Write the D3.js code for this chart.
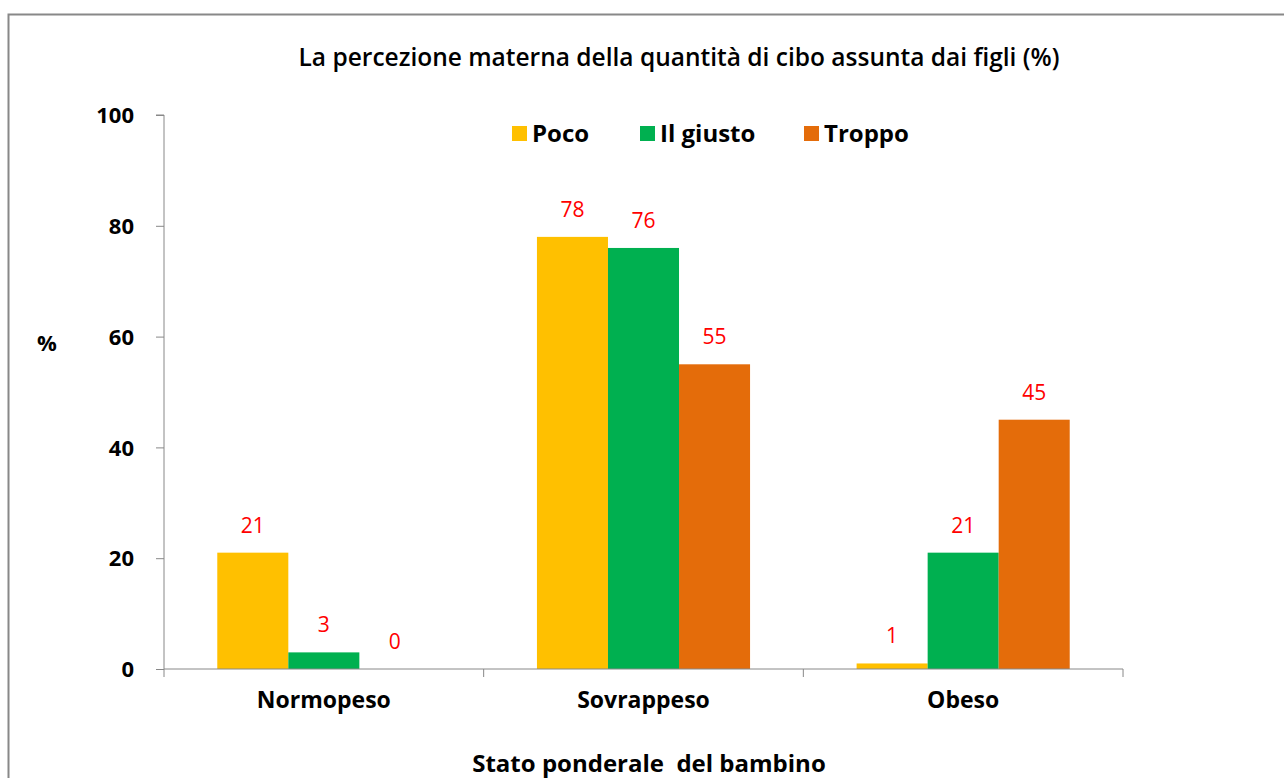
<!DOCTYPE html>
<html>
<head>
<meta charset="utf-8">
<script src="https://cdn.jsdelivr.net/npm/d3@7"></script>
<style>
  body { margin: 0; background: #fff; }
  svg, svg text { font-family: "Open Sans", sans-serif; }
</style>
</head>
<body>
<div id="chart"></div>
<script>
// data
var categories = ["Normopeso", "Sovrappeso", "Obeso"];
var seriesNames = ["Poco", "Il giusto", "Troppo"];
var poco = [21, 78, 1];
var giusto = [3, 76, 21];
var troppo = [0, 55, 45];
var yTicks = [0, 20, 40, 60, 80, 100];

var colors = ["#FFC000", "#00B050", "#E46C0A"];

var width = 1284, height = 778;

var svg = d3.select("#chart")
    .append("svg")
    .attr("width", width)
    .attr("height", height);

// outer frame
svg.append("rect")
    .attr("x", 8.5)
    .attr("y", 14.5)
    .attr("width", 1300)
    .attr("height", 800)
    .attr("fill", "white")
    .attr("stroke", "#888")
    .attr("stroke-width", 2);

var margin = { left: 164, right: 1123, top: 115, bottom: 669 };

var x0 = d3.scaleBand()
    .domain(categories)
    .range([margin.left, margin.right])
    .paddingInner(0)
    .paddingOuter(0);

var x1 = d3.scaleBand()
    .domain(seriesNames)
    .range([0, x0.bandwidth()])
    .paddingOuter(0.75)
    .paddingInner(0);

var y = d3.scaleLinear()
    .domain([0, 100])
    .range([margin.bottom, margin.top]);

var rows = categories.map(function (c, i) {
    return { cat: c, values: [poco[i], giusto[i], troppo[i]] };
});

// bars
var groups = svg.selectAll(".group")
    .data(rows)
    .enter().append("g")
    .attr("class", "group")
    .attr("transform", function (d) { return "translate(" + x0(d.cat) + ",0)"; });

groups.selectAll("rect")
    .data(function (d) { return d.values.map(function (v, j) { return { s: seriesNames[j], v: v, j: j }; }); })
    .enter().append("rect")
    .attr("x", function (d) { return x1(d.s); })
    .attr("y", function (d) { return y(d.v); })
    .attr("width", x1.bandwidth())
    .attr("height", function (d) { return y(0) - y(d.v); })
    .attr("fill", function (d) { return colors[d.j]; });

groups.selectAll(".val")
    .data(function (d) { return d.values.map(function (v, j) { return { s: seriesNames[j], v: v, j: j }; }); })
    .enter().append("text")
    .attr("class", "val")
    .attr("x", function (d) { return x1(d.s) + x1.bandwidth() / 2; })
    .attr("y", function (d) { return y(d.v) - 20; })
    .attr("text-anchor", "middle")
    .attr("fill", "#FF0000")
    .style("font-size", "21px")
    .text(function (d) { return d.v; });

// y axis
var yAxis = svg.append("g")
    .attr("transform", "translate(" + margin.left + ",0)")
    .call(d3.axisLeft(y).tickValues(yTicks).tickSize(8).tickPadding(22));
yAxis.attr("font-family", "Open Sans");
yAxis.select(".domain").attr("stroke", "#888").attr("d", "M-8," + y(100) + "H0V" + y(0));
yAxis.selectAll(".tick line").attr("stroke", "#888");
yAxis.selectAll(".tick text")
    .attr("fill", "#000")
    .style("font-size", "22px")
    .style("font-weight", "bold")
    .attr("dy", "0.35em");

// x axis
var xAxis = svg.append("g")
    .attr("transform", "translate(0," + margin.bottom + ")")
    .call(d3.axisBottom(x0).tickSize(0).tickPadding(23));
xAxis.attr("font-family", "Open Sans");
xAxis.select(".domain").attr("stroke", "#888").attr("d", "M" + margin.left + ",0H" + margin.right);
xAxis.selectAll(".tick text")
    .attr("fill", "#000")
    .style("font-size", "23px")
    .style("font-weight", "bold");

// category separators
var bounds = categories.map(function (c) { return x0(c); }).concat([margin.right]);
svg.selectAll(".sep")
    .data(bounds)
    .enter().append("line")
    .attr("x1", function (d) { return d; })
    .attr("x2", function (d) { return d; })
    .attr("y1", margin.bottom)
    .attr("y2", margin.bottom + 8)
    .attr("stroke", "#888");

// title
svg.append("text")
    .attr("x", 679)
    .attr("y", 66)
    .attr("text-anchor", "middle")
    .style("font-size", "24.5px")
    .style("font-weight", "600")
    .text("La percezione materna della quantità di cibo assunta dai figli (%)");

// axis titles
svg.append("text")
    .attr("x", 47)
    .attr("y", 351)
    .attr("text-anchor", "middle")
    .style("font-size", "22px")
    .style("font-weight", "bold")
    .text("%");

svg.append("text")
    .attr("x", 649)
    .attr("y", 772)
    .attr("text-anchor", "middle")
    .style("font-size", "24px")
    .style("font-weight", "bold")
    .attr("xml:space", "preserve")
    .text("Stato ponderale  del bambino");

// legend
var legendX = [512, 640, 804];
var legend = svg.selectAll(".legend-item")
    .data(seriesNames)
    .enter().append("g")
    .attr("class", "legend-item")
    .attr("transform", function (d, i) { return "translate(" + legendX[i] + ",126)"; });

legend.append("rect")
    .attr("width", 15)
    .attr("height", 15)
    .attr("fill", function (d, i) { return colors[i]; });

legend.append("text")
    .attr("x", 20)
    .attr("y", 16)
    .style("font-size", "24px")
    .style("font-weight", "bold")
    .text(function (d) { return d; });
</script>
</body>
</html>
